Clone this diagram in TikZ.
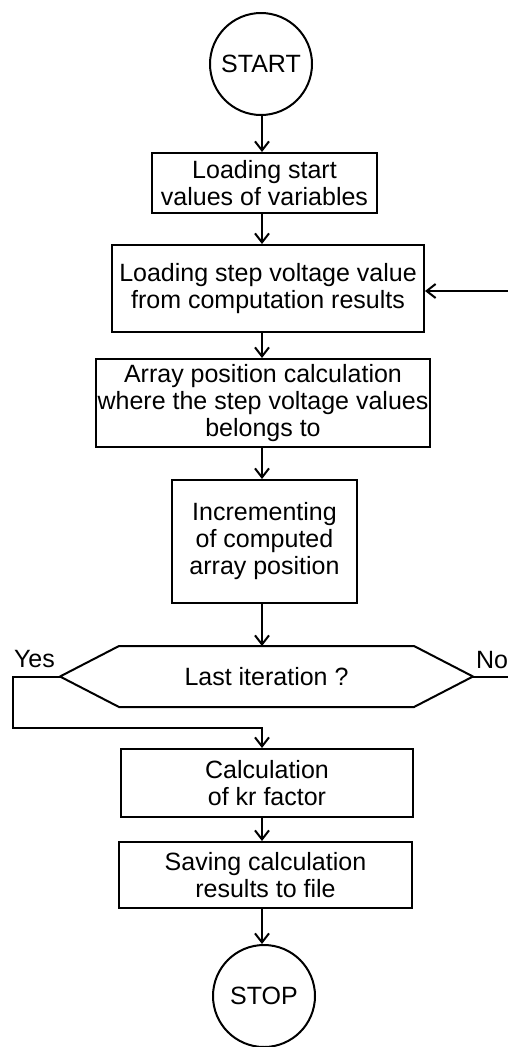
\documentclass[tikz,border=0pt]{standalone}
\usepackage{fontspec}
\setmainfont{Liberation Sans}
\usetikzlibrary{arrows.meta,calc}
\begin{document}
\begin{tikzpicture}[x=1pt,y=-1pt,
  line width=2pt,
  every node/.style={font=\fontsize{25}{27}\selectfont, inner sep=0pt, align=center},
  proc/.style={draw, rectangle},
  term/.style={draw, circle, minimum size=102pt},
  lbl/.style={anchor=base west},
  arr/.style={-{Straight Barb[length=9pt,width=14pt]}, line width=2pt}]
\useasboundingbox (0,0) rectangle (508,1047);
\coordinate (ax) at (262,0);
\node[term] (start) at (261,64) {START};
\node[proc, minimum width=225pt, minimum height=60pt] (b1) at (264.5,183) {Loading start\\values of variables};
\node[proc, minimum width=312pt, minimum height=87pt] (b2) at (268,288.5) {Loading step voltage value\\from computation results};
\node[proc, minimum width=334pt, minimum height=88pt] (b3) at (263,403) {Array position calculation\\where the step voltage values\\belongs to};
\node[proc, minimum width=185pt, minimum height=123pt] (b4) at (264.5,541.5) {Incrementing\\of computed\\array position};
\node[minimum width=411pt, minimum height=59pt] (dec) at (266.5,676.5) {Last iteration ?};
\draw (dec.west) -- ([xshift=59pt]dec.north west) -- ([xshift=-59pt]dec.north east) -- (dec.east)
  -- ([xshift=-59pt]dec.south east) -- ([xshift=59pt]dec.south west) -- cycle;
\node[proc, minimum width=292pt, minimum height=68pt] (b5) at (267,783) {Calculation\\of kr factor};
\node[proc, minimum width=293pt, minimum height=66pt] (b6) at (265.5,875) {Saving calculation\\results to file};
\node[term] (stop) at (264,996) {STOP};
\node[lbl] (yes) at (13,667) {Yes};
\node[lbl] (no) at (475,668) {No};
\coordinate (yb) at (13,728);
\coordinate (noend) at (508,676.5);
\coordinate (loop) at (508,291);
\draw[arr] (ax |- start.south) -- (ax |- b1.north);
\draw[arr] (ax |- b1.south) -- (ax |- b2.north);
\draw[arr] (ax |- b2.south) -- (ax |- b3.north);
\draw[arr] (ax |- b3.south) -- (ax |- b4.north);
\draw[arr] (ax |- b4.south) -- (ax |- dec.north);
\draw[arr] (dec.west) -| (yb) -- (yb -| ax) -- (ax |- b5.north);
\draw (dec.east) -- (noend);
\draw[arr] (loop) -- (loop -| b2.east);
\draw[arr] (ax |- b5.south) -- (ax |- b6.north);
\draw[arr] (ax |- b6.south) -- (ax |- stop.north);
\end{tikzpicture}
\end{document}
